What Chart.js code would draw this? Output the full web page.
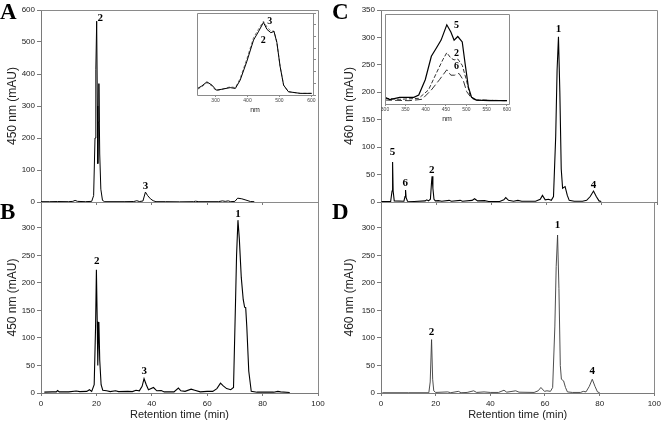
<!DOCTYPE html>
<html><head><meta charset="utf-8">
<script src="https://cdn.jsdelivr.net/npm/chart.js@4/dist/chart.umd.min.js"></script>
<style>
html,body{margin:0;padding:0;background:#fff;}
#wrap{position:relative;width:664px;height:426px;overflow:hidden;background:#fff;}
#wrap canvas{position:absolute;left:0;top:0;}
</style></head><body><div id="wrap"></div>
<script>
// ---------- DATA ----------
// Panel A: 450 nm chromatogram (retention time in min, absorbance in mAU)
const timeA = [0,3,6,10,11.5,12.3,13.2,16,18.3,19.0,19.5,19.8,20.1,20.35,20.5,20.7,20.9,21.2,21.6,22.2,23,30,33.5,34.6,35.5,36.8,37.7,38.5,39.5,40.5,41.5,45,50,55,55.8,57,64,65.5,66.5,67.6,68.5,70,71,72.5,74,75.6,77];
const absA  = [1,1,1.5,1,2,5,2,1,2,20,200,415,565,300,120,250,370,150,40,5,1,1,1.5,4,1.5,3,31,20,10,4,1,1,0.5,1,2.5,1,1,3.5,2,3.5,1,2,12,10,6,1.5,1];
// Panel B: 450 nm chromatogram
const timeB = [1.2,4,5.5,6,6.6,10,12.7,14,16.5,17.5,18.3,19.2,19.7,20.0,20.3,20.5,20.7,20.9,21.2,21.7,22.3,23.7,25,26.9,28,31.3,33,34.3,35.5,36.5,37.2,38,38.8,40.6,41.8,43.4,44.5,48,49.6,50.5,52,54.2,55.5,57.5,60,62,63.5,64.8,65.8,67,68.5,69.5,70.2,70.6,71.1,71.6,72.3,73,73.5,73.9,74.3,75,75.9,78,84,85.5,86.5,89.8];
const absB  = [1.5,2,2,4.5,2,2,3.5,2.5,3,6,3,15,120,224,130,50,100,129,60,15,5,4,2.5,4,2.5,3,2.5,5,4,12,26,15,6,10,4,4.5,2,2,9,4,3,7,5,2,3,3,8,18,13,8,6,10,160,250,314,280,210,170,156,155,120,40,3,1.5,1.5,3,2,1];
// Panel C: 460 nm chromatogram
const timeC = [0.2,3.5,4.0,4.2,4.4,4.8,8.3,8.7,8.9,9.1,9.6,12,16,16.6,17.2,17.9,18.3,18.5,18.8,19.2,19.7,20.8,22,24.7,25.5,28.7,29.5,33,33.9,35,37.5,39,43,44.5,45.2,46.2,48,49.6,51,56,57.7,58.5,59.5,60.7,61.7,62.5,63.3,63.8,64.3,64.8,65.3,65.8,66.7,67.5,68.2,70,73,74.5,75.8,77,78,79,79.8];
const absC  = [1,1,20,73,20,2,1.5,10,22,8,1.5,1,2,4,2,5,35,47,25,5,2,2.5,1.5,3,1.5,3,1.5,3,6,2,2.5,1,1,4,8,3,1.5,3,1.5,1.5,5,12,4,5,3,10,120,240,301,200,60,25,28,12,3,1.5,1.5,3,10,20,10,2,1];
// Panel D: 460 nm chromatogram
const timeD = [0.5,10,17.5,18,18.5,18.9,19.3,20,24.4,25.5,28.3,29.3,31.5,33.9,35,37.7,40,43,45,46,49.3,50.5,56,57.5,58.5,59.8,60.7,62,62.8,63.6,64.1,64.6,65.1,65.6,66,66.8,67.5,68.2,70,73,74,75,76.2,77.3,78.3,79.2,80];
const absD  = [0.5,0.5,0.5,20,97,25,4,1,2,0.5,3,0.5,1,4,1,2,1,1,5,1.5,4,1.5,1,4,10,3,4,3,10,120,230,287,190,50,25,22,10,2,1,1,3,2,12,25,12,2,0.5];

// Peak labels (compound numbers) anchored at data coordinates
const peakTextA = ['2','3'];        const peakXA = [21.4,37.7]; const peakYA = [566,40];
const peakTextB = ['2','3','1'];    const peakXB = [20.1,37.3,71.1]; const peakYB = [234,34,319];
const peakTextC = ['5','6','2','1','4']; const peakXC = [4.2,8.8,18.4,64.3,77.0]; const peakYC = [85,29,53,310,25];
const peakTextD = ['2','1','4'];    const peakXD = [18.5,64.6,77.3]; const peakYD = [106,299,35];

// Inset A: UV-Vis spectra (nm, relative absorbance)
const nmA    = [244,257,273,289,302,320,346,362,377,398,419,434,450,461,473,483,492,502,513,528,565,601];
const spec2A = [0.08,0.11,0.16,0.12,0.06,0.07,0.09,0.08,0.18,0.41,0.67,0.77,0.885,0.80,0.76,0.775,0.64,0.35,0.12,0.04,0.02,0.02];
const spec3A = [0.07,0.10,0.15,0.11,0.05,0.07,0.10,0.09,0.20,0.44,0.70,0.80,0.90,0.83,0.78,0.78,0.64,0.35,0.12,0.04,0.02,0.02];
const insetTextA = ['3','2']; const insetXA = [470,449]; const insetYA = [0.86,0.64];
const insetTicksA = [300,400,500,600];

// Inset C: UV-Vis spectra
const nm5 = [300,312,336,371,383,399,414,426,438,452,462,470,479,490,497,505,513,525,557,600];
const spec5 = [0.074,0.05,0.074,0.074,0.10,0.27,0.53,0.62,0.71,0.88,0.80,0.71,0.75,0.69,0.45,0.19,0.074,0.044,0.037,0.037];
const nm2 = [300,336,383,407,426,442,452,462,470,479,490,500,509,521,600];
const spec2 = [0.063,0.052,0.063,0.156,0.34,0.49,0.57,0.51,0.49,0.50,0.43,0.27,0.10,0.044,0.037];
const nm6 = [300,359,391,414,434,452,462,471,482,492,501,513,525,600];
const spec6 = [0.044,0.037,0.052,0.156,0.27,0.38,0.32,0.32,0.34,0.27,0.137,0.063,0.044,0.037];
const insetTextC = ['5','2','6']; const insetXC = [476,476,476]; const insetYC = [0.84,0.53,0.39];
const insetTicksC = [300,350,400,450,500,550,600];

const xTicksMain = [0,20,40,60,80,100];

// ---------- HELPERS ----------
const SANS = '"Liberation Sans", Arial, sans-serif';
const SERIF = '"Liberation Serif", "Times New Roman", serif';
const toXY = (xs, ys) => xs.map((x, i) => ({x: x, y: ys[i]}));
function addCanvas() {
  const c = document.createElement('canvas');
  c.width = 664; c.height = 426;
  c.style.width = '664px'; c.style.height = '426px';
  document.getElementById('wrap').appendChild(c);
  return c;
}
function labelPlugin(texts, xs, ys, font) {
  return { id: 'peakLabels', afterDatasetsDraw(chart) {
    const ctx = chart.ctx, sx = chart.scales.x, sy = chart.scales.y;
    ctx.save(); ctx.font = font; ctx.fillStyle = '#000';
    ctx.textAlign = 'center'; ctx.textBaseline = 'alphabetic';
    texts.forEach((t, i) => ctx.fillText(t, sx.getPixelForValue(xs[i]), sy.getPixelForValue(ys[i])));
    ctx.restore();
  }};
}
function framePlugin(full, fillWhite) {
  return { id: 'frame',
    beforeDatasetsDraw(chart) {
      if (!fillWhite) return;
      const a = chart.chartArea, ctx = chart.ctx;
      ctx.save(); ctx.fillStyle = '#fff'; ctx.fillRect(a.left, a.top, a.right - a.left, a.bottom - a.top); ctx.restore();
    },
    afterDraw(chart) {
      const a = chart.chartArea, ctx = chart.ctx;
      ctx.save(); ctx.strokeStyle = '#8a8a8a'; ctx.lineWidth = 1;
      ctx.beginPath();
      if (full) { ctx.rect(Math.round(a.left) + 0.5, Math.round(a.top) + 0.5, Math.round(a.right - a.left), Math.round(a.bottom - a.top)); }
      else {
        ctx.moveTo(Math.round(a.left), Math.round(a.top) + 0.5); ctx.lineTo(Math.round(a.right) + 0.5, Math.round(a.top) + 0.5);
        ctx.lineTo(Math.round(a.right) + 0.5, Math.round(a.bottom));
      }
      ctx.stroke(); ctx.restore();
    }};
}
function letterPlugin(letter, px, py) {
  return { id: 'panelLetter', afterDraw(chart) {
    const ctx = chart.ctx;
    ctx.save(); ctx.font = 'bold 23px ' + SERIF; ctx.fillStyle = '#000';
    ctx.textAlign = 'left'; ctx.textBaseline = 'alphabetic';
    ctx.fillText(letter, px, py); ctx.restore();
  }};
}

function mainChart(o) {
  const yFilter = (s) => { s.ticks = s.ticks.filter(t => Math.abs(t.value % o.yStep) < 1e-6 && t.value <= o.yLabelMax); };
  return new Chart(addCanvas(), {
    type: 'line',
    data: { datasets: [{ data: toXY(o.xs, o.ys), borderColor: o.color, borderWidth: o.width, pointRadius: 0, tension: 0, fill: false }] },
    options: {
      responsive: false, animation: false, devicePixelRatio: 1,
      events: [],
      layout: { padding: o.pad },
      plugins: { legend: { display: false }, tooltip: { enabled: false }, title: { display: false } },
      scales: {
        x: {
          type: 'linear', min: 0, max: 100,
          afterBuildTicks: (s) => { s.ticks = xTicksMain.map(v => ({value: v})); },
          afterFit: (s) => { s.height = o.xH; },
          border: { display: true, color: '#7a7a7a', width: 1 },
          grid: { display: true, drawOnChartArea: false, drawTicks: true, tickLength: 3, color: '#7a7a7a' },
          ticks: { display: o.xLabels, font: { size: 8, family: SANS }, color: '#222', padding: 3, maxRotation: 0 },
          title: { display: o.xLabels, text: 'Retention time (min)', font: { size: 11, family: SANS }, color: '#222', padding: { top: 0, bottom: 1.5 } }
        },
        y: {
          type: 'linear', min: 0, max: o.yMax,
          afterBuildTicks: yFilter,
          afterFit: (s) => { s.width = 41; },
          border: { display: true, color: '#7a7a7a', width: 1 },
          grid: { display: true, drawOnChartArea: false, drawTicks: true, tickLength: 4, color: '#7a7a7a' },
          ticks: { font: { size: 8, family: SANS }, color: '#222', padding: 2, stepSize: o.yStep },
          title: { display: true, text: o.yTitle, font: { size: 12, family: SANS }, color: '#222', padding: { top: o.titlePad, bottom: 0 } }
        }
      }
    },
    plugins: [framePlugin(false, false), labelPlugin(o.pt, o.px, o.py, 'bold 11px ' + SERIF), letterPlugin(o.letter, o.lx, o.ly)]
  });
}

function insetChart(o) {
  return new Chart(addCanvas(), {
    type: 'line',
    data: { datasets: o.sets.map(s => ({ data: toXY(s.x, s.y), borderColor: s.color, borderWidth: s.w, borderDash: s.dash, pointRadius: 0, tension: 0, fill: false })) },
    options: {
      responsive: false, animation: false, devicePixelRatio: 1, events: [],
      layout: { padding: o.pad },
      plugins: { legend: { display: false }, tooltip: { enabled: false } },
      scales: {
        x: {
          type: 'linear', min: o.xMin, max: o.xMax,
          afterBuildTicks: (s) => { s.ticks = o.ticks.map(v => ({value: v})); },
          afterFit: (s) => { s.height = o.xH; },
          border: { display: false },
          grid: { display: true, drawOnChartArea: false, drawTicks: true, tickLength: 2, color: '#8a8a8a' },
          ticks: { font: { size: 5, family: SANS }, color: '#444', padding: 1, maxRotation: 0, autoSkip: false },
          title: { display: true, text: 'nm', font: { size: 7, family: SANS }, color: '#222', padding: { top: 0, bottom: o.nmPad } }
        },
        y: {
          type: 'linear', min: 0, max: 1, position: 'right', display: o.yTicks,
          afterFit: (s) => { s.width = 3; },
          border: { display: false },
          grid: { display: true, drawOnChartArea: false, drawTicks: true, tickLength: 3, color: '#8a8a8a' },
          ticks: { display: false, count: 8 }
        }
      }
    },
    plugins: [framePlugin(true, true), labelPlugin(o.lt, o.lxs, o.lys, 'bold 10px ' + SERIF)]
  });
}

// ---------- CHARTS ----------
mainChart({ xs: timeA, ys: absA, color: '#000', width: 1, yMax: 600, yStep: 100, yLabelMax: 600,
  yTitle: '450 nm (mAU)', titlePad: 5.5, xLabels: false, xH: 3,
  pad: { left: 0, top: 10, right: 346, bottom: 221 },
  pt: peakTextA, px: peakXA, py: peakYA, letter: 'A', lx: 0, ly: 19 });
mainChart({ xs: timeB, ys: absB, color: '#000', width: 1.1, yMax: 347, yStep: 50, yLabelMax: 300,
  yTitle: '450 nm (mAU)', titlePad: 5.5, xLabels: true, xH: 30,
  pad: { left: 0, top: 202, right: 346, bottom: 3 },
  pt: peakTextB, px: peakXB, py: peakYB, letter: 'B', lx: 0, ly: 219 });
mainChart({ xs: timeC, ys: absC, color: '#000', width: 1.1, yMax: 350, yStep: 50, yLabelMax: 350,
  yTitle: '460 nm (mAU)', titlePad: 2.5, xLabels: false, xH: 3,
  pad: { left: 340, top: 10, right: 7, bottom: 221 },
  pt: peakTextC, px: peakXC, py: peakYC, letter: 'C', lx: 332, ly: 19 });
mainChart({ xs: timeD, ys: absD, color: '#3a3a3a', width: 0.9, yMax: 347, yStep: 50, yLabelMax: 300,
  yTitle: '460 nm (mAU)', titlePad: 2.5, xLabels: true, xH: 30,
  pad: { left: 340, top: 202, right: 7, bottom: 3 },
  pt: peakTextD, px: peakXD, py: peakYD, letter: 'D', lx: 332, ly: 219 });

insetChart({ xMin: 242, xMax: 605, ticks: insetTicksA, xH: 20, nmPad: 1, yTicks: true,
  pad: { left: 197, top: 13, right: 348, bottom: 426 - 95 - 20 },
  sets: [ { x: nmA, y: spec2A, color: '#000', w: 1, dash: [] },
          { x: nmA, y: spec3A, color: '#777', w: 1, dash: [3, 2] } ],
  lt: insetTextA, lxs: insetXA, lys: insetYA });
insetChart({ xMin: 300, xMax: 605, ticks: insetTicksC, xH: 19, nmPad: 0, yTicks: false,
  pad: { left: 385, top: 14, right: 152, bottom: 426 - 104 - 19 },
  sets: [ { x: nm5, y: spec5, color: '#000', w: 1.2, dash: [] },
          { x: nm2, y: spec2, color: '#333', w: 1, dash: [4, 2] },
          { x: nm6, y: spec6, color: '#333', w: 1, dash: [7, 3] } ],
  lt: insetTextC, lxs: insetXC, lys: insetYC });
</script></body></html>
